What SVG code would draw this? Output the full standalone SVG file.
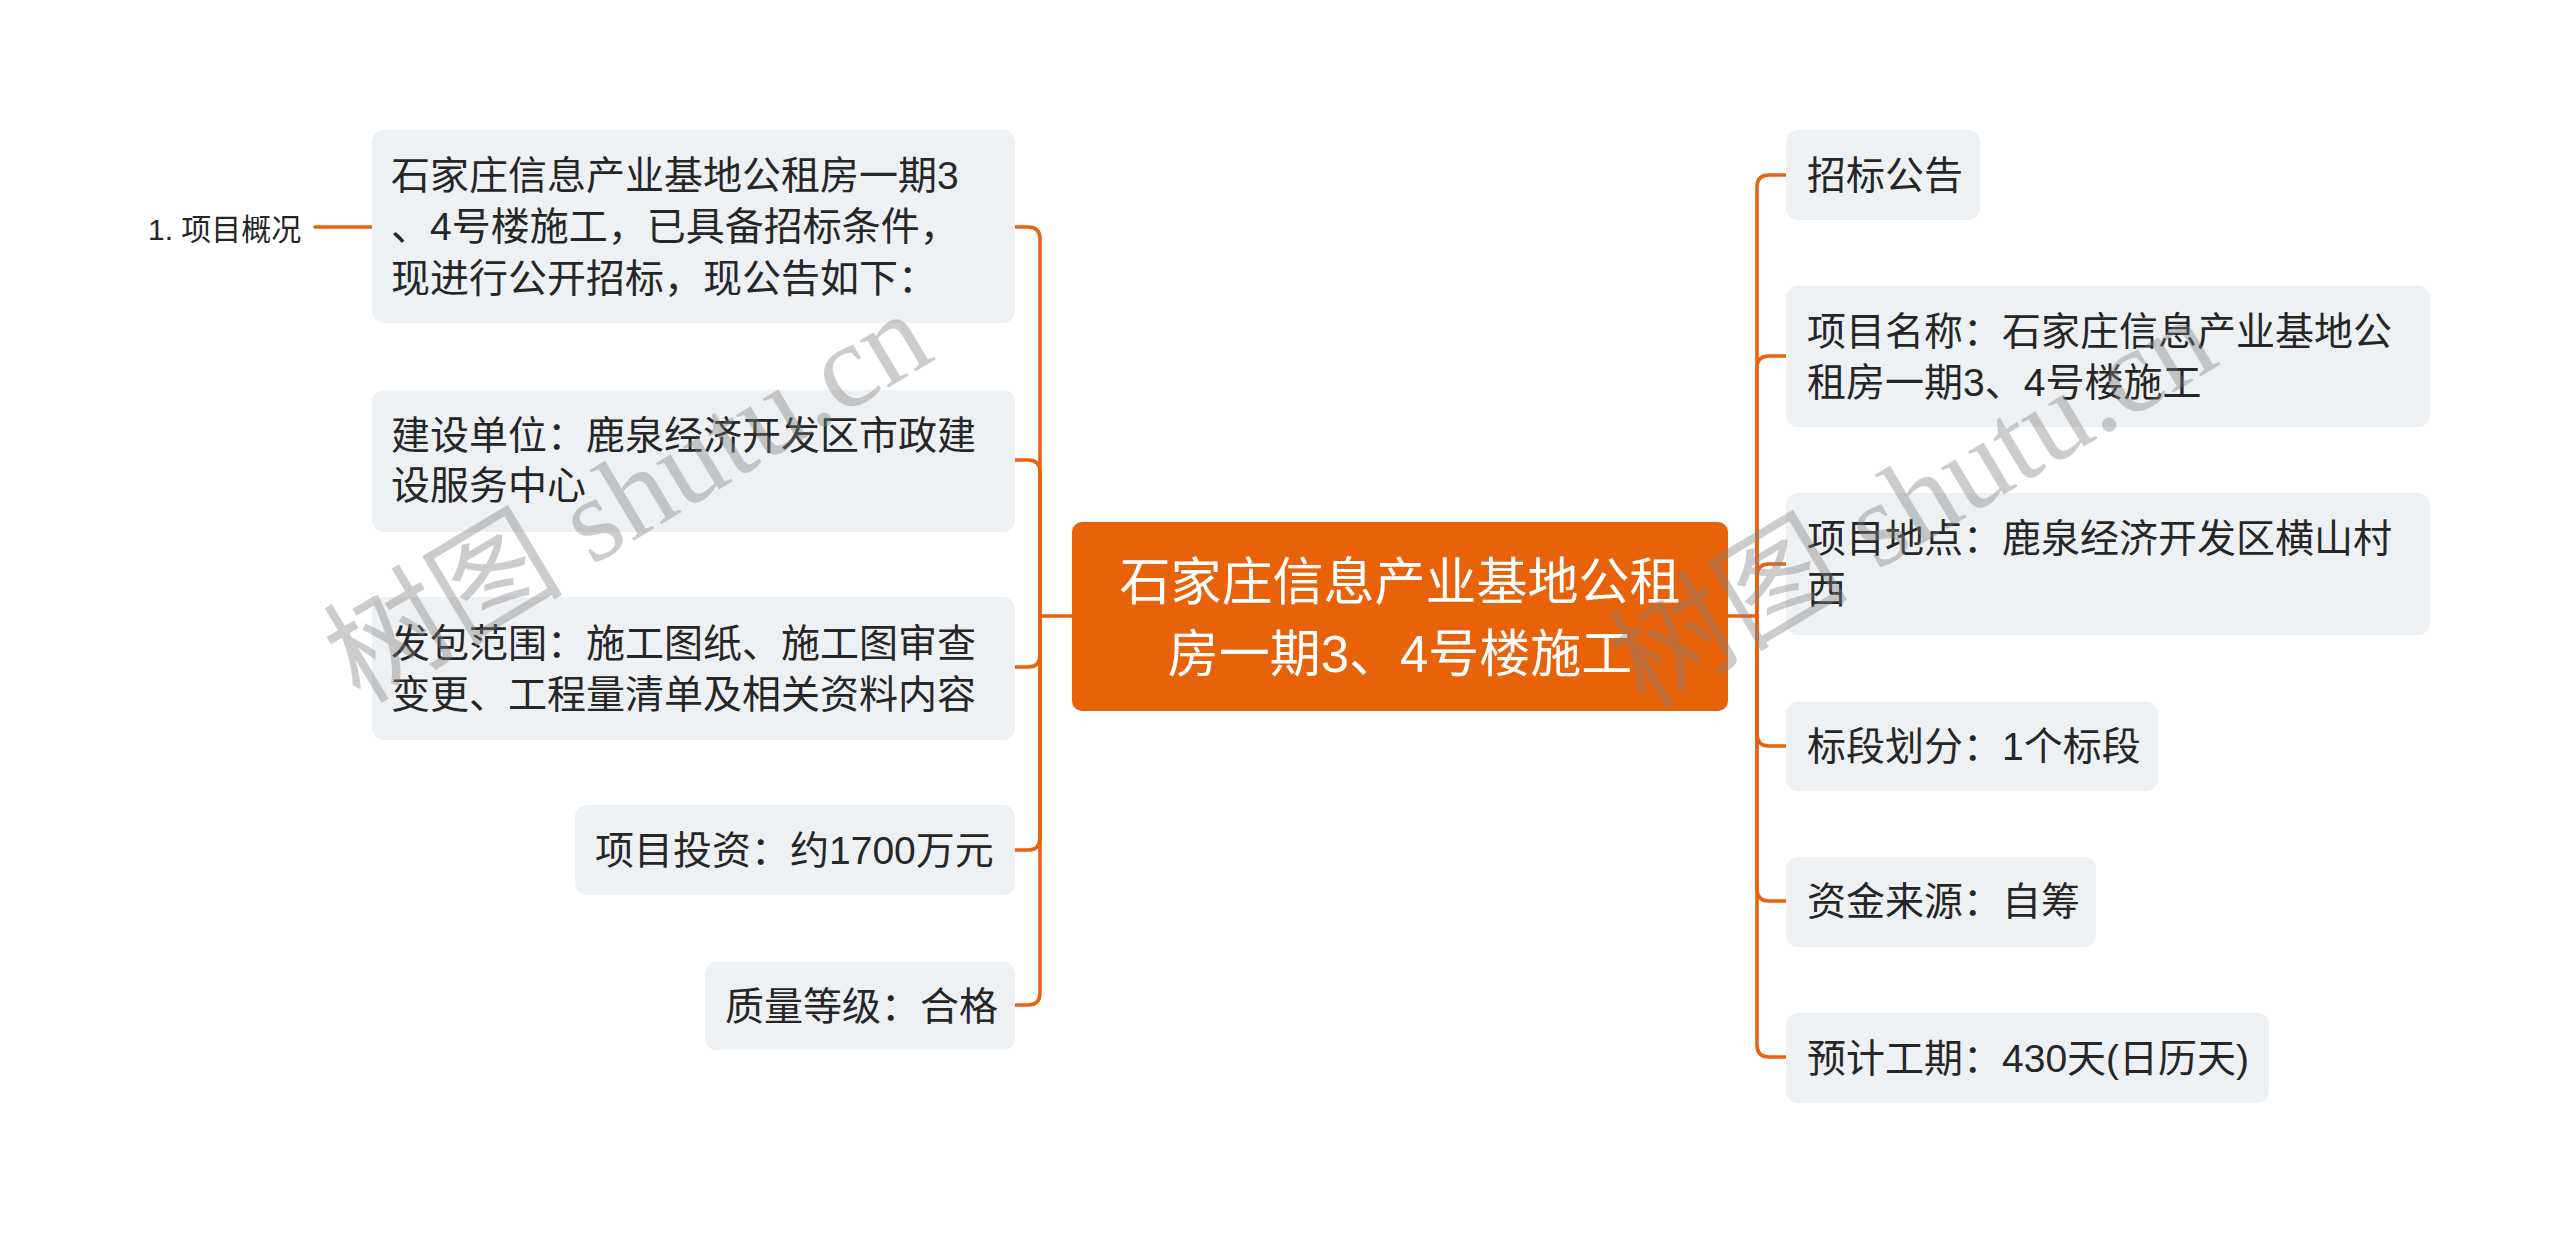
<svg xmlns="http://www.w3.org/2000/svg" width="2560" height="1233" viewBox="0 0 2560 1233">
<style>
.bg{fill:#ffffff}
.box{fill:#EEF1F4}
.t{font-family:'Liberation Sans','Noto Sans CJK SC',sans-serif;font-size:39px;fill:#262626}
.lbl{font-family:'Liberation Sans','Noto Sans CJK SC',sans-serif;font-size:30px;fill:#262626}
.ct{font-family:'Liberation Sans','Noto Sans CJK SC',sans-serif;font-size:51px;fill:#ffffff;text-anchor:middle}
.ln{fill:none;stroke:#E8620E;stroke-width:3.5;stroke-linecap:round}
.wm{font-family:'Liberation Serif','Noto Sans CJK SC',serif;font-size:120px;fill:#808080;fill-opacity:0.4}
</style>
<rect class="bg" x="0" y="0" width="2560" height="1233"/>
<g id="connectors">
<path class="ln" d="M1040 616 H1072"/>
<path class="ln" d="M1040 616 V239 Q1040 227 1028 227 H1015"/>
<path class="ln" d="M1040 616 V472 Q1040 460 1028 460 H1015"/>
<path class="ln" d="M1040 616 V655 Q1040 667 1028 667 H1015"/>
<path class="ln" d="M1040 616 V838 Q1040 850 1028 850 H1015"/>
<path class="ln" d="M1040 616 V993 Q1040 1005 1028 1005 H1015"/>
<path class="ln" d="M315 227 H372"/>
<path class="ln" d="M1728 616 H1757"/>
<path class="ln" d="M1757 616 V187 Q1757 175 1769 175 H1786"/>
<path class="ln" d="M1757 616 V368 Q1757 356 1769 356 H1786"/>
<path class="ln" d="M1757 616 V576 Q1757 564 1769 564 H1786"/>
<path class="ln" d="M1757 616 V734 Q1757 746 1769 746 H1786"/>
<path class="ln" d="M1757 616 V889 Q1757 901 1769 901 H1786"/>
<path class="ln" d="M1757 616 V1045 Q1757 1057 1769 1057 H1786"/>
</g>
<g id="center">
<rect x="1072" y="522" width="656" height="189" rx="10" fill="#E8620A"/>
<text class="ct" x="1400" y="600">石家庄信息产业基地公租</text>
<text class="ct" x="1400" y="672">房一期3、4号楼施工</text>
</g>
<g id="l1">
<rect class="box" x="372" y="130" width="643" height="193" rx="12"/>
<text class="t" x="391" y="189">石家庄信息产业基地公租房一期3</text>
<text class="t" x="391" y="240">、4号楼施工，已具备招标条件，</text>
<text class="t" x="391" y="292">现进行公开招标，现公告如下：</text>
</g>
<g id="l1a">
<text class="lbl" x="148" y="240">1. 项目概况</text>
</g>
<g id="l2">
<rect class="box" x="372" y="390" width="643" height="142" rx="12"/>
<text class="t" x="391" y="449">建设单位：鹿泉经济开发区市政建</text>
<text class="t" x="391" y="499">设服务中心</text>
</g>
<g id="l3">
<rect class="box" x="372" y="597" width="643" height="143" rx="12"/>
<text class="t" x="391" y="657">发包范围：施工图纸、施工图审查</text>
<text class="t" x="391" y="708">变更、工程量清单及相关资料内容</text>
</g>
<g id="l4">
<rect class="box" x="575" y="805" width="440" height="90" rx="12"/>
<text class="t" x="595" y="864">项目投资：约1700万元</text>
</g>
<g id="l5">
<rect class="box" x="705" y="962" width="310" height="88" rx="12"/>
<text class="t" x="725" y="1020">质量等级：合格</text>
</g>
<g id="r1">
<rect class="box" x="1786" y="130" width="194" height="90" rx="12"/>
<text class="t" x="1807" y="189">招标公告</text>
</g>
<g id="r2">
<rect class="box" x="1786" y="286" width="644" height="141" rx="12"/>
<text class="t" x="1807" y="345">项目名称：石家庄信息产业基地公</text>
<text class="t" x="1807" y="396">租房一期3、4号楼施工</text>
</g>
<g id="r3">
<rect class="box" x="1786" y="493" width="644" height="142" rx="12"/>
<text class="t" x="1807" y="552">项目地点：鹿泉经济开发区横山村</text>
<text class="t" x="1807" y="603">西</text>
</g>
<g id="r4">
<rect class="box" x="1786" y="702" width="372" height="89" rx="12"/>
<text class="t" x="1807" y="760">标段划分：1个标段</text>
</g>
<g id="r5">
<rect class="box" x="1786" y="857" width="310" height="90" rx="12"/>
<text class="t" x="1807" y="915">资金来源：自筹</text>
</g>
<g id="r6">
<rect class="box" x="1786" y="1013" width="483" height="90" rx="12"/>
<text class="t" x="1807" y="1072">预计工期：430天(日历天)</text>
</g>
<g id="watermark">
<text class="wm" transform="translate(360 705) rotate(-31)">树图 shutu.cn</text>
<text class="wm" transform="translate(1645 710) rotate(-31)">树图 shutu.cn</text>
</g>
</svg>
